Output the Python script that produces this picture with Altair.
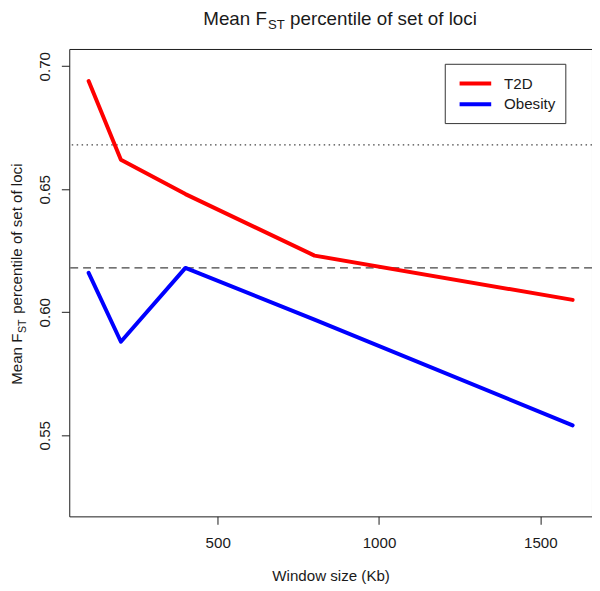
import altair as alt
import pandas as pd

# ---- data ----
window_kb = [100, 200, 400, 800, 1600]
t2d = [0.694, 0.662, 0.648, 0.623, 0.605]
obesity = [0.616, 0.588, 0.618, 0.597, 0.554]
series_names = ["T2D", "Obesity"]
series_colors = ["#FF0000", "#0000FF"]
dashed_ref = [0.618]
dotted_ref = [0.668]
x_ticks = [500, 1000, 1500]
y_ticks = [0.55, 0.60, 0.65, 0.70]
x_domain = [40, 1660]
y_domain = [0.517, 0.707]

FONT = "Liberation Sans"
INK = "#1a1a1a"
FS = 15.3

rows = []
for name, vals in zip(series_names, [t2d, obesity]):
    for w, v in zip(window_kb, vals):
        rows.append({"window": w, "value": v, "series": name})
df = pd.DataFrame(rows)

xs = alt.Scale(domain=x_domain, nice=False, zero=False)
ys = alt.Scale(domain=y_domain, nice=False, zero=False)

lines = alt.Chart(df).mark_line(strokeWidth=4, strokeCap="round", strokeJoin="round").encode(
    x=alt.X("window:Q", scale=xs, title="Window size (Kb)",
            axis=alt.Axis(values=x_ticks, format="d", labelPadding=12, titlePadding=18)),
    y=alt.Y("value:Q", scale=ys, title=None,
            axis=alt.Axis(values=y_ticks, format=".2f", labelAngle=270, labelAlign="center",
                          labelBaseline="bottom", labelPadding=9)),
    color=alt.Color("series:N", scale=alt.Scale(domain=series_names, range=series_colors),
                    legend=alt.Legend(orient="none", legendX=380, legendY=15, title=None,
                                      symbolType="M-2,0H2", symbolStrokeWidth=4, symbolSize=256,
                                      symbolOffset=11, labelOffset=19,
                                      labelFontSize=FS, labelFont=FONT, labelColor=INK,
                                      strokeColor="#333", fillColor="white", padding=10,
                                      rowPadding=2, cornerRadius=0)),
)

dashed = alt.Chart(pd.DataFrame({"v": dashed_ref})).mark_rule(
    strokeDash=[8, 5], color="#444", strokeWidth=1.3).encode(y=alt.Y("v:Q", scale=ys))
dotted = alt.Chart(pd.DataFrame({"v": dotted_ref})).mark_rule(
    strokeDash=[1.5, 3.5], color="#444", strokeWidth=1.3).encode(y=alt.Y("v:Q", scale=ys))

def txt(s, x, y, size, align, angle=0, baseline="alphabetic"):
    return alt.Chart(pd.DataFrame({"t": [s]})).mark_text(
        font=FONT, fontSize=size, align=align, baseline=baseline, angle=angle, color=INK
    ).encode(x=alt.value(x), y=alt.value(y), text="t:N")

# main title: "Mean F_ST  percentile of set of loci"
title_parts = [
    txt("Mean F", 200, -24, 19, "right"),
    txt("ST", 201, -20, 13.3, "left"),
    txt("percentile of set of loci", 223.5, -24, 19, "left"),
]
# y title, rotated (reads bottom to top)
ycx = -48
ytitle_parts = [
    txt("Mean F", ycx, 288, FS, "right", angle=270),
    txt("ST", ycx + 4, 287.5, 10.7, "left", angle=270),
    txt("percentile of set of loci", ycx, 268, FS, "left", angle=270),
]

chart = alt.layer(dotted, dashed, lines, *title_parts, *ytitle_parts).properties(
    width=529, height=473,
    autosize=alt.AutoSizeParams(type="none"),
    padding={"left": 62, "top": 38, "right": 0, "bottom": 68},
).configure_view(stroke=INK, strokeWidth=1).configure_axis(
    grid=False, domain=False, tickColor=INK, tickSize=8, tickWidth=1,
    labelFont=FONT, labelFontSize=FS, labelColor=INK,
    titleFont=FONT, titleFontSize=FS, titleColor=INK, titleFontWeight="normal",
)

chart.save("out.html", embed_options={"renderer": "svg", "actions": False})
